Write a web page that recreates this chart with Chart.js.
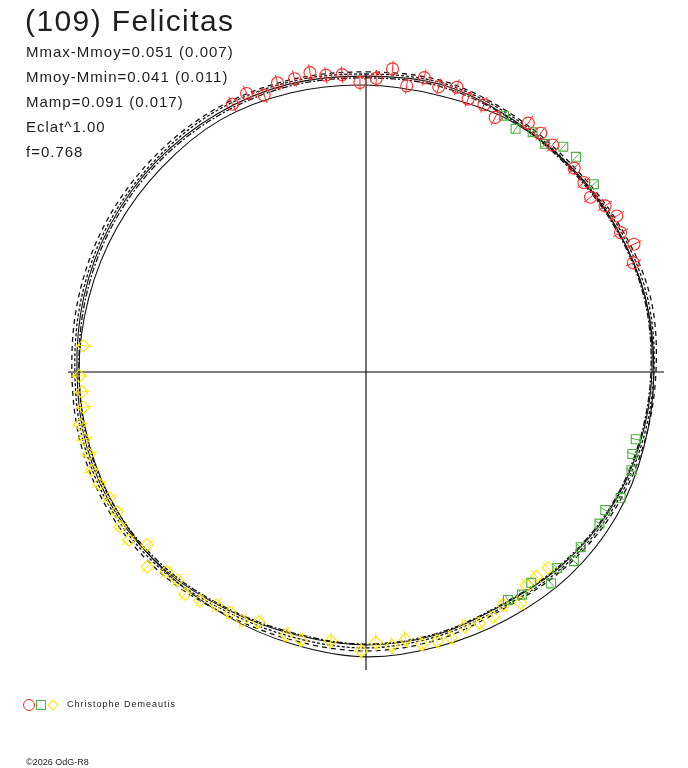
<!DOCTYPE html>
<html>
<head>
<meta charset="utf-8">
<script src="https://cdn.jsdelivr.net/npm/chart.js@4.4.1/dist/chart.umd.min.js"></script>
<style>
  body { margin:0; background:#fff; font-family:"Liberation Sans", Arial, sans-serif; color:#1e1e1e; }
  #wrap { position:relative; width:688px; height:768px; overflow:hidden; }
  #polar { position:absolute; left:0; top:0; }
  .txt { position:absolute; line-height:1; white-space:nowrap; }
  .title { left:25px; top:6px; font-size:30px; letter-spacing:1.4px; }
  .info { left:26px; font-size:15px; letter-spacing:1px; }
  .obs { left:67px; top:700px; font-size:9px; letter-spacing:1px; }
  .copy { left:26px; top:758px; font-size:9px; }
  .sym { position:absolute; box-sizing:border-box; }
</style>
</head>
<body>
<div id="wrap">
  <canvas id="polar" width="688" height="768"></canvas>
  <div class="txt title">(109) Felicitas</div>
  <div class="txt info" style="top:44px">Mmax-Mmoy=0.051 (0.007)</div>
  <div class="txt info" style="top:69px">Mmoy-Mmin=0.041 (0.011)</div>
  <div class="txt info" style="top:94px">Mamp=0.091 (0.017)</div>
  <div class="txt info" style="top:119px">Eclat^1.00</div>
  <div class="txt info" style="top:144px">f=0.768</div>
  <div class="sym" style="left:23px;top:699px;width:12px;height:12px;border:1px solid #ff2a2a;border-radius:50%"></div>
  <div class="sym" style="left:36px;top:700px;width:10px;height:10px;border:1px solid #50b040"></div>
  <div class="sym" style="left:49px;top:701px;width:8px;height:8px;border:1px solid #ffe800;transform:rotate(45deg)"></div>
  <div class="txt obs">Christophe Demeautis</div>
  <div class="txt copy">©2026 OdG-R8</div>
</div>
<script>
// rotation phase in degrees (0 = top, clockwise), radius relative to plot unit
const phaseGrid = [0,15,30,45,60,75,90,105,120,135,150,165,180,195,210,225,240,255,270,285,300,315,330,345];
const fitA = [1.007,1.010,0.993,0.980,0.983,0.987,0.973,0.963,0.953,0.936,0.919,0.930,0.936,0.933,0.940,0.963,0.980,0.987,0.987,0.997,1.007,1.013,1.017,1.013];
const fitB = [1.000,1.003,0.987,0.973,0.977,0.977,0.966,0.956,0.946,0.930,0.913,0.919,0.926,0.923,0.930,0.953,0.970,0.977,0.977,0.987,0.997,1.003,1.010,1.007];
const fitC = [0.993,0.997,0.980,0.970,0.970,0.970,0.960,0.950,0.940,0.923,0.906,0.913,0.916,0.913,0.923,0.946,0.963,0.970,0.970,0.980,0.990,0.997,1.000,1.000];
const fitD = [0.987,0.990,0.977,0.966,0.966,0.966,0.956,0.946,0.936,0.919,0.903,0.909,0.913,0.909,0.919,0.940,0.956,0.963,0.963,0.973,0.983,0.990,0.993,0.993];
const refCurve = [0.963,0.960,0.973,0.973,0.970,0.970,0.966,0.966,0.970,0.966,0.956,0.953,0.956,0.946,0.943,0.950,0.956,0.960,0.963,0.963,0.966,0.970,0.977,0.970];

// session 1 (red circles)
const redPhase = [333.5,336.8,339.8,343.0,346.3,349.4,352.3,355.4,358.8,2.0,5.0,8.1,11.2,14.3,17.7,20.5,23.8,26.9,33.1,36.2,39.4,45.6,49.0,52.1,55.2,58.1,61.3,64.5,67.8];
const redRad   = [1.004,1.017,0.990,1.015,1.013,1.022,1.005,1.001,0.972,0.986,1.021,0.970,1.007,0.988,1.003,0.978,0.980,0.958,0.997,0.993,0.986,0.978,0.969,0.955,0.977,0.991,0.974,0.996,0.969];
// session 2 (green squares)
const greenPhase = [28.3,31.6,34.8,38.1,41.2,44.3,50.5,104.0,107.1,110.3,116.3,120.0,123.0,129.2,132.3,135.7,138.8,141.9,145.0,148.1];
const greenRad   = [0.977,0.958,0.980,0.973,1.005,1.009,0.991,0.933,0.935,0.950,0.953,0.927,0.934,0.930,0.943,0.919,0.943,0.899,0.912,0.901];
// session 3 (yellow diamonds)
const yellowPhase = [137.1,140.2,143.0,146.2,149.5,152.6,155.7,158.8,162.3,165.2,168.4,171.6,174.6,177.9,181.0,187.5,193.6,196.9,203.2,206.4,209.5,212.7,216.0,219.2,222.2,225.0,228.3,231.7,234.7,237.8,240.7,243.9,247.2,250.3,253.5,256.6,259.6,262.9,266.0,269.2,275.3];
const yellowRad   = [0.898,0.894,0.895,0.932,0.907,0.926,0.925,0.917,0.936,0.934,0.933,0.907,0.922,0.909,0.936,0.910,0.926,0.922,0.913,0.932,0.928,0.929,0.948,0.961,0.942,0.947,0.983,0.936,0.975,0.975,0.959,0.960,0.971,0.978,0.970,0.972,0.976,0.956,0.956,0.962,0.953];

const errHalf = { red: 0.028, green: 0.018, yellow: 0.028 };
const axisSpan = [-1, 1];

const RED = '#ff2a2a', GREEN = '#50b040', YELLOW = '#ffe800', INK = '#111';

function toXY(deg, r){ const a = deg*Math.PI/180; return { x: r*Math.sin(a), y: r*Math.cos(a) }; }
function pts(ph, rr){ return ph.map((p,i)=>toXY(p, rr[i])); }
// closed loop: one extra point on each side so the spline is smooth at the seam
function loop(rr){
  const n = phaseGrid.length;
  const out = [toXY(phaseGrid[n-1]-360, rr[n-1])];
  for (let i=0;i<n;i++) out.push(toXY(phaseGrid[i], rr[i]));
  out.push(toXY(360, rr[0]), toXY(375, rr[1]));
  return out;
}
function errBars(ph, rr, e){
  const out = [];
  ph.forEach((p,i)=>{ out.push(toXY(p, rr[i]-e), toXY(p, rr[i]+e), {x:null, y:null}); });
  return out;
}
function curve(rr, dash, w){
  const data = loop(rr), last = data.length-1;
  return { data, showLine:true, borderColor:INK, borderWidth:w, borderDash:dash, pointRadius:0, tension:0.34,
    segment:{ borderColor: c => (c.p0DataIndex===0 || c.p1DataIndex===last) ? 'rgba(0,0,0,0)' : undefined },
    clip:false, order:5 };
}

const datasets = [
  { data: pts(redPhase, redRad), pointStyle:'circle', pointRadius:6, borderColor:RED, backgroundColor:'rgba(0,0,0,0)', borderWidth:1.1, clip:false, order:1 },
  { data: pts(greenPhase, greenRad), pointStyle:'rect', pointRadius:6.3, borderColor:GREEN, backgroundColor:'rgba(0,0,0,0)', borderWidth:1.1, clip:false, order:1 },
  { data: pts(yellowPhase, yellowRad), pointStyle:'rectRot', pointRadius:6.3, borderColor:YELLOW, backgroundColor:'rgba(0,0,0,0)', borderWidth:1.1, clip:false, order:1 },
  { data: errBars(redPhase, redRad, errHalf.red), showLine:true, borderColor:RED, borderWidth:1, pointRadius:0, clip:false, order:2 },
  { data: errBars(greenPhase, greenRad, errHalf.green), showLine:true, borderColor:GREEN, borderWidth:1, pointRadius:0, clip:false, order:2 },
  { data: errBars(yellowPhase, yellowRad, errHalf.yellow), showLine:true, borderColor:YELLOW, borderWidth:1, pointRadius:0, clip:false, order:2 },
  curve(fitA, [5,4], 1.3),
  curve(fitB, [3,2], 1.3),
  curve(fitC, [], 1.1),
  curve(fitD, [6,2,2,2], 1.3),
  curve(refCurve, [], 1.1),
  { data: axisSpan.map(v=>({x:v, y:0})), showLine:true, borderColor:'#000', borderWidth:1.1, pointRadius:0, clip:false, order:9 },
  { data: axisSpan.map(v=>({x:0, y:v})), showLine:true, borderColor:'#000', borderWidth:1.1, pointRadius:0, clip:false, order:9 }
];

new Chart(document.getElementById('polar').getContext('2d'), {
  type: 'scatter',
  data: { datasets },
  options: {
    responsive:false, animation:false, devicePixelRatio:1, events:[],
    layout:{ padding:{ left:68, right:24, top:74, bottom:98 } },
    elements:{ line:{ capBezierPoints:false } },
    scales:{
      x:{ type:'linear', min:-1, max:1, display:false },
      y:{ type:'linear', min:-1, max:1, display:false }
    },
    plugins:{ legend:{ display:false }, tooltip:{ enabled:false }, title:{ display:false } }
  }
});
</script>
</body>
</html>
